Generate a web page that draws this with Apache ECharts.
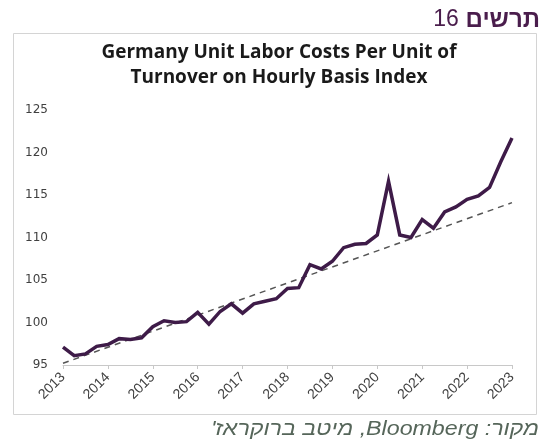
<!DOCTYPE html>
<html>
<head>
<meta charset="utf-8">
<script src="https://cdn.jsdelivr.net/npm/echarts@6/dist/echarts.min.js"></script>
<style>
  html, body { margin: 0; padding: 0; background: #fff; }
  #chart { width: 545px; height: 441px; }
</style>
</head>
<body>
<div id="chart"></div>
<script>
// quarterly index, 2013Q1 .. 2023Q1
const quarters = [
  "2013Q1","2013Q2","2013Q3","2013Q4",
  "2014Q1","2014Q2","2014Q3","2014Q4",
  "2015Q1","2015Q2","2015Q3","2015Q4",
  "2016Q1","2016Q2","2016Q3","2016Q4",
  "2017Q1","2017Q2","2017Q3","2017Q4",
  "2018Q1","2018Q2","2018Q3","2018Q4",
  "2019Q1","2019Q2","2019Q3","2019Q4",
  "2020Q1","2020Q2","2020Q3","2020Q4",
  "2021Q1","2021Q2","2021Q3","2021Q4",
  "2022Q1","2022Q2","2022Q3","2022Q4",
  "2023Q1"
];
const laborCost = [
  97.1, 96.1, 96.3, 97.2,
  97.4, 98.1, 98.0, 98.2,
  99.5, 100.2, 100.0, 100.1,
  101.2, 99.8, 101.3, 102.2,
  101.1, 102.2, 102.5, 102.8,
  104.0, 104.1, 106.8, 106.3,
  107.2, 108.8, 109.2, 109.3,
  110.3, 116.6, 110.3, 110.0,
  112.1, 111.1, 113.0, 113.6,
  114.5, 114.9, 115.9, 118.9,
  121.7
];
// trend line end points
const trendStart = ["2013Q1", 95.2];
const trendEnd = ["2023Q1", 114.1];

const chartTitle = "Germany Unit Labor Costs Per Unit of\nTurnover on Hourly Basis Index";
const figLabel = "תרשים";
const figNumber = "16";
const sourceText = "\u202Bמקור: Bloomberg, מיטב ברוקראז'\u202C";

const chart = echarts.init(document.getElementById("chart"));

chart.setOption({
  backgroundColor: "#fff",
  animation: false,
  title: {
    text: chartTitle,
    left: 274,
    textAlign: "center",
    top: 35,
    textStyle: {
      fontFamily: "Open Sans",
      fontSize: 19,
      fontWeight: "bold",
      color: "#1a1a1a",
      lineHeight: 25
    }
  },
  graphic: [
    {
      type: "rect",
      shape: { x: 13.5, y: 33.5, width: 523, height: 381 },
      style: { fill: "none", stroke: "#d4d4d4", lineWidth: 1 },
      silent: true
    },
    {
      type: "text",
      right: 5,
      top: 8,
      style: {
        text: "{n|" + figNumber + "}  {b|" + figLabel + "}",
        rich: {
          n: { fontFamily: "Liberation Sans", fontSize: 23, fill: "#4a1d4c" },
          b: { fontFamily: "Liberation Sans", fontSize: 24, fontWeight: "bold", fill: "#4a1d4c" }
        }
      }
    },
    {
      // the source line in the original is set in a slightly wider face
      type: "text",
      x: 539,
      y: 429,
      scaleX: 1.16,
      style: {
        text: sourceText,
        align: "right",
        verticalAlign: "middle",
        font: "italic 20px 'Liberation Sans'",
        fill: "#56665a"
      }
    }
  ],
  grid: { left: 63, right: 33, top: 110, bottom: 76 },
  xAxis: {
    type: "category",
    data: quarters,
    boundaryGap: false,
    axisLine: { lineStyle: { color: "#c8c8c8", width: 1 } },
    axisTick: { show: true, interval: 3, length: 4, lineStyle: { color: "#c8c8c8" } },
    axisLabel: {
      interval: 3,
      rotate: 45,
      margin: 10,
      fontFamily: "Liberation Sans",
      fontSize: 14,
      color: "#404040",
      formatter: function (v) { return v.slice(0, 4); }
    }
  },
  yAxis: {
    type: "value",
    min: 95,
    max: 125,
    interval: 5,
    axisLine: { show: false },
    axisTick: { show: false },
    splitLine: { show: false },
    axisLabel: {
      margin: 15,
      fontFamily: "DejaVu Sans",
      fontSize: 12,
      color: "#404040"
    }
  },
  series: [
    {
      name: "trend",
      type: "line",
      data: [trendStart, trendEnd],
      symbol: "none",
      lineStyle: { color: "#555", width: 1.5, type: [6, 5] },
      z: 1
    },
    {
      name: "labor",
      type: "line",
      data: laborCost,
      symbol: "none",
      lineStyle: { color: "#3e1b48", width: 3.5, join: "miter" },
      z: 2
    }
  ]
});
</script>
</body>
</html>
